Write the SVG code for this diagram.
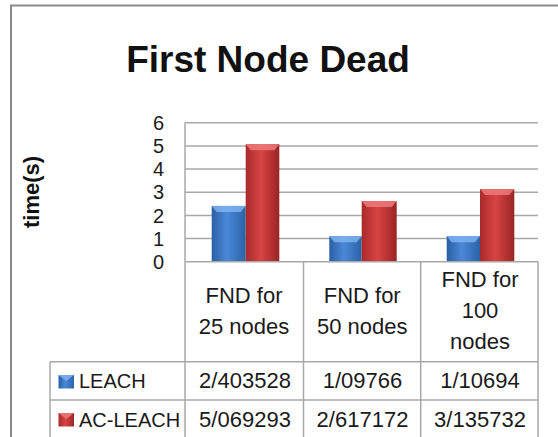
<svg xmlns="http://www.w3.org/2000/svg" width="558" height="437" viewBox="0 0 558 437">
<defs>
<linearGradient id="gBlue" x1="0" y1="0" x2="1" y2="0">
<stop offset="0" stop-color="#2a5fa5"/>
<stop offset="0.45" stop-color="#4a88d6"/>
<stop offset="1" stop-color="#2b62a8"/>
</linearGradient>
<linearGradient id="gRed" x1="0" y1="0" x2="1" y2="0">
<stop offset="0" stop-color="#a82a2a"/>
<stop offset="0.45" stop-color="#d84444"/>
<stop offset="1" stop-color="#9a2424"/>
</linearGradient>
<style>
.grid{stroke:#a8a8a8;stroke-width:1.5;fill:none}
.tbl{stroke:#a8a8a8;stroke-width:1.5;fill:none}
.ax{font-family:"Liberation Sans",Arial,sans-serif;font-size:20px;fill:#1a1a1a;text-anchor:end}
.hd{font-family:"Liberation Sans",Arial,sans-serif;font-size:22px;fill:#1a1a1a;text-anchor:middle}
.val{font-family:"Liberation Sans",Arial,sans-serif;font-size:22px;fill:#1a1a1a;text-anchor:middle}
.lg{font-family:"Liberation Sans",Arial,sans-serif;font-size:20px;fill:#1a1a1a}
.blue{fill:url(#gBlue)}
.red{fill:url(#gRed)}
.capB{fill:#7fb2ee;opacity:0.85}
.capR{fill:#ee7a7a;opacity:0.85}
</style>
</defs>
<rect x="0" y="0" width="558" height="437" fill="#ffffff"/>
<path d="M11,437 V5.5 H558" fill="none" stroke="#8a8a8a" stroke-width="2"/>
<g id="title">
<text x="268" y="71.5" text-anchor="middle" font-family="Liberation Sans,Arial,sans-serif" font-weight="bold" font-size="37" fill="#111">First Node Dead</text>
</g>
<g id="yaxis-title">
<text transform="translate(39,192) rotate(-90)" text-anchor="middle" font-family="Liberation Sans,Arial,sans-serif" font-weight="bold" font-size="22" fill="#111">time(s)</text>
</g>
<g id="gridlines">
<line class="grid" x1="185" y1="122.7" x2="538" y2="122.7"/>
<line class="grid" x1="185" y1="145.9" x2="538" y2="145.9"/>
<line class="grid" x1="185" y1="169" x2="538" y2="169"/>
<line class="grid" x1="185" y1="192.2" x2="538" y2="192.2"/>
<line class="grid" x1="185" y1="215.4" x2="538" y2="215.4"/>
<line class="grid" x1="185" y1="238.5" x2="538" y2="238.5"/>
</g>
<g id="yaxis-labels">
<text class="ax" x="164" y="129.9">6</text>
<text class="ax" x="164" y="153.1">5</text>
<text class="ax" x="164" y="176.2">4</text>
<text class="ax" x="164" y="199.4">3</text>
<text class="ax" x="164" y="222.6">2</text>
<text class="ax" x="164" y="245.7">1</text>
<text class="ax" x="164" y="268.9">0</text>
</g>
<g id="bars">
<g id="bar-leach-25">
<rect class="blue" x="211.7" y="205.9" width="34" height="55.8"/>
<polygon class="capB" points="211.7,205.9 245.7,205.9 240.7,212 216.7,212"/>
</g>
<g id="bar-acleach-25">
<rect class="red" x="245.7" y="144.2" width="33.6" height="117.5"/>
<polygon class="capR" points="245.7,144.2 279.3,144.2 274.3,150.3 250.7,150.3"/>
</g>
<g id="bar-leach-50">
<rect class="blue" x="329.3" y="236.2" width="32.4" height="25.5"/>
<polygon class="capB" points="329.3,236.2 361.7,236.2 356.7,242.3 334.3,242.3"/>
</g>
<g id="bar-acleach-50">
<rect class="red" x="361.7" y="201" width="35" height="60.7"/>
<polygon class="capR" points="361.7,201 396.7,201 391.7,207.1 366.7,207.1"/>
</g>
<g id="bar-leach-100">
<rect class="blue" x="446.7" y="236.1" width="33.3" height="25.6"/>
<polygon class="capB" points="446.7,236.1 480,236.1 475,242.2 451.7,242.2"/>
</g>
<g id="bar-acleach-100">
<rect class="red" x="480" y="189" width="34.3" height="72.7"/>
<polygon class="capR" points="480,189 514.3,189 509.3,195.1 485,195.1"/>
</g>
</g>
<g id="table-lines">
<line class="tbl" x1="185" y1="122.7" x2="185" y2="437"/>
<line class="tbl" x1="185" y1="261.7" x2="538" y2="261.7"/>
<line class="tbl" x1="303.5" y1="261.7" x2="303.5" y2="437"/>
<line class="tbl" x1="420.7" y1="261.7" x2="420.7" y2="437"/>
<line class="tbl" x1="538" y1="261.7" x2="538" y2="437"/>
<line class="tbl" x1="50" y1="361.7" x2="538" y2="361.7"/>
<line class="tbl" x1="50" y1="400" x2="538" y2="400"/>
<line class="tbl" x1="50" y1="361.7" x2="50" y2="437"/>
</g>
<g id="header-25">
<text class="hd" x="244" y="303.3">FND for</text>
<text class="hd" x="244" y="334">25 nodes</text>
</g>
<g id="header-50">
<text class="hd" x="362.2" y="303.3">FND for</text>
<text class="hd" x="362.2" y="334">50 nodes</text>
</g>
<g id="header-100">
<text class="hd" x="480" y="287.3">FND for</text>
<text class="hd" x="480" y="318">100</text>
<text class="hd" x="480" y="349">nodes</text>
</g>
<g id="legend-leach">
<rect x="58.5" y="375" width="15.5" height="13.5" fill="url(#gBlue)"/>
<polygon class="capB" points="58.5,375 74,375 66.2,381"/>
<text class="lg" x="79" y="388.3">LEACH</text>
</g>
<g id="legend-acleach">
<rect x="58.5" y="413" width="15.5" height="13.5" fill="url(#gRed)"/>
<polygon class="capR" points="58.5,413 74,413 66.2,419"/>
<text class="lg" x="79" y="426.7">AC-LEACH</text>
</g>
<g id="values-leach">
<text class="val" x="245" y="388.3">2/403528</text>
<text class="val" x="362.5" y="388.3">1/09766</text>
<text class="val" x="480" y="388.3">1/10694</text>
</g>
<g id="values-acleach">
<text class="val" x="245" y="426.7">5/069293</text>
<text class="val" x="362.5" y="426.7">2/617172</text>
<text class="val" x="480" y="426.7">3/135732</text>
</g>
</svg>
